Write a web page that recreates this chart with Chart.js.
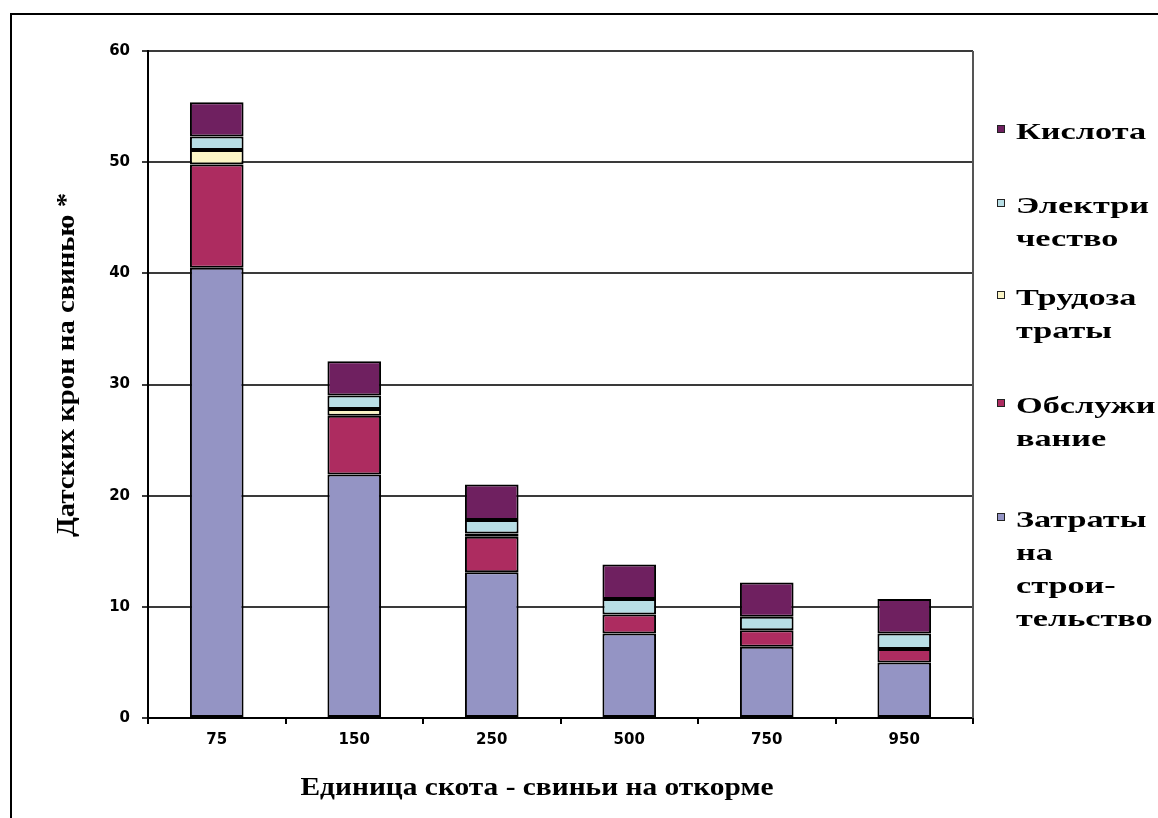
<!DOCTYPE html>
<html>
<head>
    <title>Затраты на свинью</title>
    <script src="https://cdn.jsdelivr.net/npm/chart.js@4.4.1/dist/chart.umd.min.js"></script>
    <style>
      body { margin: 0; background: #fff; overflow: hidden; }
      #wrap { position: relative; width: 1158px; height: 818px; }
    </style>
</head>
<body>
    <div id="wrap"><canvas id="myChart"></canvas></div>
    <script>
      // data
      var categories = ['75', '150', '250', '500', '750', '950'];
      var stroitelstvo = [40.5, 21.9, 13.1, 7.6, 6.4, 5.0];
      var obsluzhivanie = [9.3, 5.3, 3.2, 1.7, 1.5, 1.2];
      var trudozatraty = [1.3, 0.6, 0.3, null, null, null];
      var elektrichestvo = [1.2, 1.2, 1.2, 1.4, 1.2, 1.4];
      var kislota = [3.1, 3.1, 3.2, 3.1, 3.1, 3.1];
      var yTicks = [0, 10, 20, 30, 40, 50, 60];
      var xTitle = 'Единица скота - свиньи на откорме';
      var yTitle = 'Датских крон на свинью *';

      // legend lines, top entry first (wrapped like the original)
      var legendEntries = [
        { lines: ['Кислота'], color: '#6f2060' },
        { lines: ['Электри', 'чество'], color: '#b8dee5' },
        { lines: ['Трудоза', 'траты'], color: '#fbf5c6' },
        { lines: ['Обслужи', 'вание'], color: '#ad2c60' },
        { lines: ['Затраты', 'на', 'строи-', 'тельство'], color: '#9494c4' }
      ];
      var legendTop = [133, 207, 299, 407, 521];

      var serif = '"Liberation Serif"';

      function stretchText(ctx, text, x, y, width) {
        var w = ctx.measureText(text).width;
        ctx.save();
        ctx.translate(x, y);
        ctx.scale(width / w, 1);
        ctx.fillText(text, 0, 0);
        ctx.restore();
      }

      var decor = {
        id: 'decor',
        beforeDraw: function(chart) {
          var ctx = chart.ctx;
          ctx.save();
          ctx.strokeStyle = '#000';
          ctx.lineWidth = 2;
          ctx.beginPath();
          ctx.moveTo(11, 900);
          ctx.lineTo(11, 14);
          ctx.lineTo(1200, 14);
          ctx.stroke();
          ctx.restore();
        },
        afterDraw: function(chart) {
          var ctx = chart.ctx;
          var a = chart.chartArea;
          ctx.save();
          // plot area border (right side)
          ctx.strokeStyle = '#555';
          ctx.lineWidth = 2;
          ctx.beginPath();
          ctx.moveTo(a.right, a.top);
          ctx.lineTo(a.right, a.bottom);
          ctx.stroke();

          // axis titles
          ctx.fillStyle = '#000';
          ctx.font = 'bold 26px ' + serif;
          ctx.textBaseline = 'middle';
          ctx.textAlign = 'left';
          var xw = 473;
          stretchText(ctx, xTitle, 537 - xw / 2, 788, xw);
          ctx.save();
          ctx.translate(67, 365);
          ctx.rotate(-Math.PI / 2);
          var yw = 344;
          stretchText(ctx, yTitle, -yw / 2, 0, yw);
          ctx.restore();

          // legend
          ctx.font = 'bold 24px ' + serif;
          var k = 130 / ctx.measureText('Кислота').width;
          legendEntries.forEach(function(e, i) {
            var y0 = legendTop[i];
            ctx.fillStyle = e.color;
            ctx.fillRect(997, y0 - 8, 8, 8);
            ctx.strokeStyle = '#222';
            ctx.lineWidth = 1;
            ctx.strokeRect(997.5, y0 - 7.5, 7, 7);
            ctx.fillStyle = '#000';
            e.lines.forEach(function(t, j) {
              ctx.save();
              ctx.translate(1016, y0 + j * 33);
              ctx.scale(k, 1);
              ctx.fillText(t, 0, 0);
              ctx.restore();
            });
          });
          ctx.restore();
        }
      };

      function ds(label, data, color) {
        return {
          label: label,
          data: data,
          backgroundColor: color,
          borderColor: '#000',
          borderWidth: 2,
          borderSkipped: false,
          barPercentage: 0.39,
          categoryPercentage: 1
        };
      }

      var ctx = document.getElementById('myChart').getContext('2d');
      var myChart = new Chart(ctx, {
          type: 'bar',
          data: {
              labels: categories,
              datasets: [
                  ds('Затраты на строительство', stroitelstvo, legendEntries[4].color),
                  ds('Обслуживание', obsluzhivanie, legendEntries[3].color),
                  ds('Трудозатраты', trudozatraty, legendEntries[2].color),
                  ds('Электричество', elektrichestvo, legendEntries[1].color),
                  ds('Кислота', kislota, legendEntries[0].color)
              ]
          },
          options: {
              responsive: true,
              maintainAspectRatio: false,
              animation: false,
              layout: { padding: { left: 88, top: 51, right: 185, bottom: 60 } },
              plugins: {
                  legend: { display: false },
                  tooltip: { enabled: false }
              },
              scales: {
                  x: {
                      stacked: true,
                      afterFit: function(s) { s.height = 40; },
                      grid: { drawOnChartArea: false, drawTicks: true, tickLength: 6, color: '#000', lineWidth: 2, offset: true },
                      border: { color: '#000', width: 2 },
                      ticks: { color: '#000', padding: 7, font: { family: '"DejaVu Sans"', size: 15, weight: 'bold' } }
                  },
                  y: {
                      stacked: true,
                      min: 0,
                      max: 60,
                      afterFit: function(s) { s.width = 60; },
                      afterBuildTicks: function(s) { s.ticks = yTicks.map(function(v) { return { value: v }; }); },
                      grid: { color: '#3a3a3a', lineWidth: 2, tickLength: 6 },
                      border: { color: '#000', width: 2 },
                      ticks: { color: '#000', padding: 12, font: { family: '"DejaVu Sans"', size: 15, weight: 'bold' } }
                  }
              }
          },
          plugins: [decor]
      });
    </script>
</body>
</html>
